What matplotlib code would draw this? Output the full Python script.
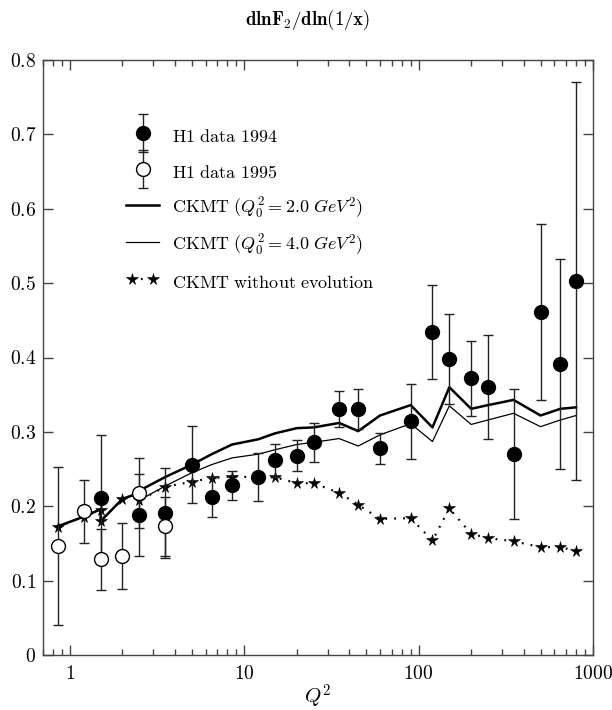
import matplotlib
matplotlib.use("Agg")
import matplotlib.pyplot as plt
from matplotlib.ticker import FixedLocator, FuncFormatter, LogLocator, NullFormatter
from matplotlib.legend_handler import HandlerLine2D, HandlerErrorbar

plt.rcParams['mathtext.fontset'] = 'cm'
plt.rcParams['font.family'] = ['DejaVu Serif']

# H1 data 1994
q2_94 = [1.5, 2.5, 3.5, 5.0, 6.5, 8.5, 12, 15, 20, 25, 35, 45, 60, 90,
         120, 150, 200, 250, 350, 500, 650, 800]
y94 = [0.211, 0.188, 0.191, 0.256, 0.212, 0.228, 0.239, 0.262, 0.268, 0.286,
       0.331, 0.331, 0.278, 0.314, 0.434, 0.398, 0.372, 0.360, 0.270, 0.461,
       0.391, 0.503]
e94 = [0.085, 0.055, 0.060, 0.052, 0.027, 0.020, 0.032, 0.022, 0.021, 0.026,
       0.024, 0.027, 0.021, 0.050, 0.063, 0.061, 0.050, 0.070, 0.087, 0.118,
       0.141, 0.268]

# H1 data 1995
q2_95 = [0.85, 1.2, 1.5, 2.0, 2.5, 3.5]
y95 = [0.147, 0.193, 0.129, 0.133, 0.218, 0.173]
e95 = [0.106, 0.042, 0.041, 0.044, 0.047, 0.040]

# CKMT model curves
q2_model = [0.85, 1.2, 1.5, 1.5, 2.0, 2.5, 2.5, 3.5, 5, 6.5, 8.5, 12, 15, 20,
            25, 35, 45, 60, 90, 120, 150, 200, 250, 350, 500, 650, 800]
ckmt_20 = [0.173, 0.186, 0.196, 0.180, 0.210, 0.218, 0.221, 0.239, 0.256,
           0.270, 0.283, 0.290, 0.298, 0.305, 0.306, 0.312, 0.301, 0.322,
           0.336, 0.306, 0.360, 0.331, 0.336, 0.343, 0.322, 0.331, 0.333]
ckmt_40 = [0.173, 0.186, 0.196, 0.180, 0.210, 0.217, 0.208, 0.227, 0.245,
           0.256, 0.265, 0.270, 0.276, 0.283, 0.286, 0.291, 0.281, 0.296,
           0.311, 0.287, 0.335, 0.310, 0.316, 0.325, 0.307, 0.316, 0.322]
ckmt_noevo = [0.172, 0.186, 0.195, 0.180, 0.210, 0.217, 0.208, 0.226, 0.233,
              0.238, 0.240, 0.239, 0.239, 0.231, 0.231, 0.218, 0.202, 0.183,
              0.184, 0.154, 0.197, 0.163, 0.157, 0.153, 0.145, 0.145, 0.140]

yticks = [0, 0.1, 0.2, 0.3, 0.4, 0.5, 0.6, 0.7, 0.8]
xticks = [1, 10, 100, 1000]

fig = plt.figure(figsize=(6.12, 7.10), dpi=100)
ax = fig.add_axes([43/612, 55/710, 550/612, 595/710])

frame = '#444444'
ln_noevo, = ax.plot(q2_model, ckmt_noevo, color='black', lw=1.6,
                    linestyle=(0, (0.8, 3.2)), marker='*', markersize=8.5,
                    markeredgewidth=0.4, zorder=2)
ln_20, = ax.plot(q2_model, ckmt_20, color='black', lw=1.8, zorder=3)
ln_40, = ax.plot(q2_model, ckmt_40, color='black', lw=0.9, zorder=3)

eb94 = ax.errorbar(q2_94, y94, yerr=e94, fmt='o', color='black',
                   ecolor='#222222', elinewidth=1.0, capsize=3.5, capthick=1.0,
                   markersize=10, zorder=4)
eb95 = ax.errorbar(q2_95, y95, yerr=e95, fmt='o', color='black',
                   markerfacecolor='white', markeredgewidth=1.0,
                   ecolor='#222222', elinewidth=1.0, capsize=3.5, capthick=1.0,
                   markersize=10, zorder=4)

ax.set_xscale('log')
ax.set_xlim(0.7, 1000)
ax.set_ylim(0, 0.8)
ax.yaxis.set_major_locator(FixedLocator(yticks))
ax.yaxis.set_major_formatter(FuncFormatter(lambda v, p: r'$%g$' % v))
ax.xaxis.set_major_locator(FixedLocator(xticks))
ax.xaxis.set_major_formatter(FuncFormatter(lambda v, p: r'$%g$' % v))
ax.xaxis.set_minor_locator(LogLocator(base=10, subs=range(2, 10), numticks=20))
ax.xaxis.set_minor_formatter(NullFormatter())
ax.tick_params(which='both', direction='in', top=True, right=True,
               color=frame, width=1.0)
ax.tick_params(which='major', length=7, labelsize=14, pad=5)
ax.tick_params(which='minor', length=4)
ax.tick_params(axis='x', which='major', pad=7)
for s in ax.spines.values():
    s.set_color(frame)
    s.set_linewidth(1.0)

ax.set_xlabel(r'$Q^2$', fontsize=15, labelpad=0)
fig.text(308/612, 1 - 20/710, r'$\mathbf{dlnF_2/dln(1/x)}$', ha='center',
         va='center', fontsize=13.5)

eb_handler = HandlerErrorbar(xerr_size=0, yerr_size=1.05, numpoints=1)
leg = ax.legend([eb94, eb95, ln_20, ln_40, ln_noevo],
                [r'$\mathrm{H1\ data\ 1994}$', r'$\mathrm{H1\ data\ 1995}$',
                 r'$\mathrm{CKMT}\ (Q_0^2=2.0\ GeV^2)$',
                 r'$\mathrm{CKMT}\ (Q_0^2=4.0\ GeV^2)$',
                 r'$\mathrm{CKMT\ without\ evolution}$'],
                loc='upper left', bbox_to_anchor=(0.135, 0.908), frameon=False,
                fontsize=13, numpoints=1, handlelength=1.8, handletextpad=0.75,
                handleheight=1.7, labelspacing=0.64, borderpad=0,
                handler_map={ln_noevo: HandlerLine2D(numpoints=2),
                             eb94: eb_handler, eb95: eb_handler})

fig.savefig('out.png', dpi=100)
